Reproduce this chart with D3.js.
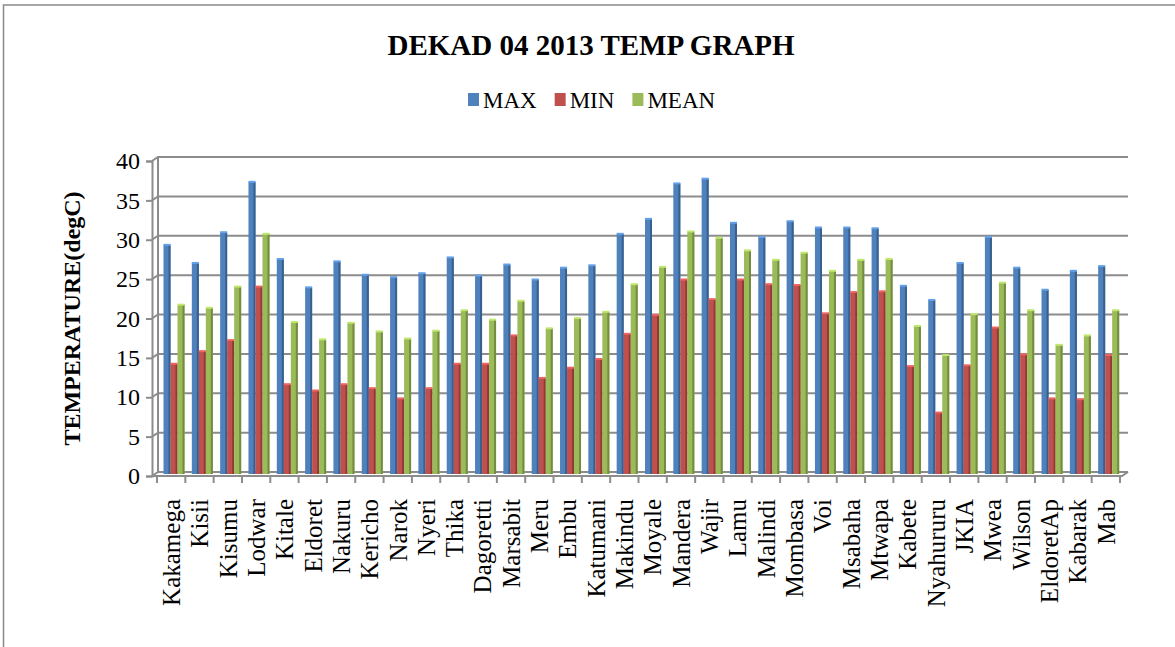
<!DOCTYPE html>
<html>
<head>
<meta charset="utf-8">
<script src="https://cdn.jsdelivr.net/npm/d3@7"></script>
<style>
  body { margin: 0; background: #fff; }
  text { font-family: "Liberation Serif", serif; fill: #000; }
</style>
</head>
<body>
<svg id="chart" width="1175" height="647"></svg>
<script>
// station names along the bottom
const stations = ['Kakamega', 'Kisii', 'Kisumu', 'Lodwar', 'Kitale', 'Eldoret', 'Nakuru', 'Kericho',
  'Narok', 'Nyeri', 'Thika', 'Dagoretti', 'Marsabit', 'Meru', 'Embu', 'Katumani', 'Makindu',
  'Moyale', 'Mandera', 'Wajir', 'Lamu', 'Malindi', 'Mombasa', 'Voi', 'Msabaha', 'Mtwapa',
  'Kabete', 'Nyahururu', 'JKIA', 'Mwea', 'Wilson', 'EldoretAp', 'Kabarak', 'Mab']

const maxTemp  = [29.1, 26.8, 30.7, 37.1, 27.3, 23.7, 27.0, 25.3, 25.0, 25.5, 27.5, 25.2, 26.6, 24.7, 26.2, 26.5, 30.5,
  32.4, 36.9, 37.5, 31.9, 30.1, 32.1, 31.3, 31.3, 31.2, 23.9, 22.1, 26.8, 30.1, 26.2, 23.4, 25.8, 26.4]
const minTemp  = [14.0, 15.6, 17.0, 23.8, 11.4, 10.6, 11.4, 10.9, 9.6, 10.9, 14.0, 14.0, 17.6, 12.2, 13.5, 14.6, 17.8,
  20.2, 24.7, 22.2, 24.7, 24.1, 24.0, 20.4, 23.1, 23.2, 13.7, 7.8, 13.8, 18.6, 15.2, 9.6, 9.5, 15.1]
const meanTemp = [21.5, 21.1, 23.8, 30.5, 19.3, 17.1, 19.2, 18.1, 17.2, 18.2, 20.8, 19.6, 22.0, 18.5, 19.8, 20.6, 24.1,
  26.3, 30.8, 30.0, 28.4, 27.2, 28.1, 25.8, 27.2, 27.3, 18.8, 15.1, 20.3, 24.3, 20.8, 16.4, 17.6, 20.8]

const seriesNames = ['MAX', 'MIN', 'MEAN']
const yTicks = [0, 5, 10, 15, 20, 25, 30, 35, 40]

const colors = { MAX: '#4f81bd', MIN: '#c0504d', MEAN: '#9bbb59' }
const sides  = { MAX: '#38608f', MIN: '#8f3a38', MEAN: '#738c40' }

let svg = d3.select('#chart')

// chart frame (only top and left edges fall inside the picture)
svg.append('rect')
  .attr('x', 3.5).attr('y', 5)
  .attr('width', 1200).attr('height', 700)
  .attr('fill', 'none')
  .attr('stroke', '#8a8a8a')
  .attr('stroke-width', 1.5)

// 3d depth of the back wall
let dx = 6, dy = -4

let y = d3.scaleLinear().domain([0, 40]).range([476, 161])
let x0 = d3.scaleBand().domain(stations).range([157, 1120])
let x1 = d3.scaleBand().domain(seriesNames).range([6.5, 27.5])

let rows = stations.map((s, i) => ({
  name: s,
  values: [
    { key: 'MAX', v: maxTemp[i] },
    { key: 'MIN', v: minTemp[i] },
    { key: 'MEAN', v: meanTemp[i] }
  ]
}))

let grid = svg.append('g').attr('stroke', '#8c8c8c').attr('stroke-width', 2).attr('fill', 'none')

// gridlines on the back wall with a short diagonal to the front axis
grid.selectAll('path.grid')
  .data(yTicks)
  .enter()
  .append('path')
  .attr('class', 'grid')
  .attr('d', d => `M152,${y(d)}L${152 + dx},${y(d) + dy}L${1122 + dx},${y(d) + dy}`)

// back wall left edge
grid.append('path').attr('d', `M${152 + dx},${y(40) + dy}V${y(0) + dy}`)

// floor front edge
grid.append('path').attr('d', `M152,${y(0)}H1122L${1122 + dx},${y(0) + dy}`)

// bars
let groups = svg.append('g')
  .selectAll('g')
  .data(rows)
  .enter()
  .append('g')
  .attr('transform', d => 'translate(' + x0(d.name) + ',0)')

let bars = groups.selectAll('g')
  .data(d => d.values)
  .enter()
  .append('g')

let bw = x1.bandwidth()

bars.append('rect')
  .attr('x', d => x1(d.key))
  .attr('y', d => y(d.v) - 2)
  .attr('width', bw)
  .attr('height', d => y(0) - y(d.v))
  .attr('fill', d => colors[d.key])

// darker side strip for the 3d look
bars.append('rect')
  .attr('x', d => x1(d.key) + bw - 2)
  .attr('y', d => y(d.v) - 2)
  .attr('width', 2)
  .attr('height', d => y(0) - y(d.v))
  .attr('fill', d => sides[d.key])

// lighter top cap
bars.append('rect')
  .attr('x', d => x1(d.key))
  .attr('y', d => y(d.v) - 3)
  .attr('width', bw)
  .attr('height', 2)
  .attr('fill', d => d3.color(colors[d.key]).brighter(0.6))

// y axis
let yAxis = svg.append('g')
  .attr('transform', 'translate(152,0)')
  .call(d3.axisLeft(y).tickValues(yTicks).tickSize(6).tickPadding(6))

yAxis.select('.domain').attr('stroke', '#8c8c8c').attr('stroke-width', 2)
yAxis.selectAll('.tick line').attr('stroke', '#8c8c8c').attr('stroke-width', 2)
yAxis.selectAll('.tick text')
  .attr('font-size', 24)
  .attr('font-family', '"Liberation Serif", serif')
  .attr('fill', '#000')

// x axis: ticks sit on the category boundaries
let xAxis = svg.append('g')
  .attr('transform', 'translate(0,' + y(0) + ')')
  .call(d3.axisBottom(x0).tickSize(0).tickPadding(0))

xAxis.select('.domain').remove()
xAxis.selectAll('.tick text')
  .attr('font-size', 25)
  .attr('font-family', '"Liberation Serif", serif')
  .attr('fill', '#000')
  .attr('text-anchor', 'end')
  .attr('transform', 'translate(0,23) rotate(-90)')
  .attr('x', 0)
  .attr('y', 0)
  .attr('dy', '0.35em')

svg.append('g')
  .attr('stroke', '#8c8c8c')
  .attr('stroke-width', 2)
  .selectAll('line')
  .data(stations.map(s => x0(s)).concat([x0.range()[1]]))
  .enter()
  .append('line')
  .attr('x1', d => d).attr('x2', d => d)
  .attr('y1', y(0)).attr('y2', y(0) + 7)

// title
svg.append('text')
  .attr('x', 591)
  .attr('y', 55)
  .attr('text-anchor', 'middle')
  .attr('font-size', 29)
  .attr('font-weight', 'bold')
  .text('DEKAD 04 2013 TEMP GRAPH')

// y axis title
svg.append('text')
  .attr('transform', 'translate(80,' + ((y(0) + y(40)) / 2) + ') rotate(-90)')
  .attr('text-anchor', 'middle')
  .attr('font-size', 24)
  .attr('font-weight', 'bold')
  .text('TEMPERATURE(degC)')

// legend
let legend = svg.append('g').attr('transform', 'translate(0,100)')
let lx = 468
seriesNames.forEach(name => {
  legend.append('rect')
    .attr('x', lx).attr('y', -7)
    .attr('width', 11).attr('height', 13)
    .attr('fill', colors[name])
  let t = legend.append('text')
    .attr('x', lx + 15)
    .attr('y', 8)
    .attr('font-size', 23)
    .text(name)
  lx += 15 + t.node().getComputedTextLength() + 18
})
</script>
</body>
</html>
